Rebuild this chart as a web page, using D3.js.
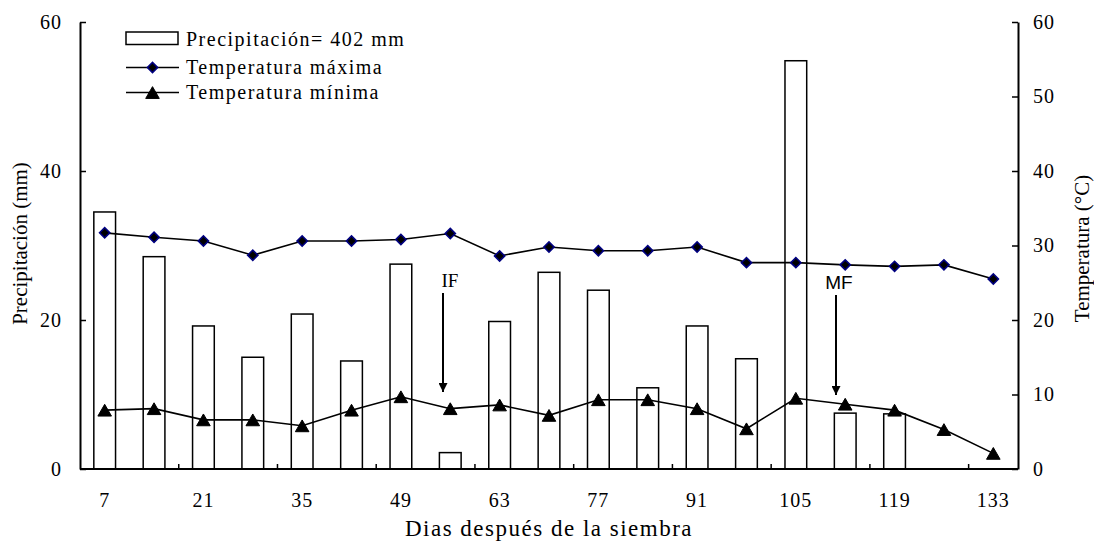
<!DOCTYPE html>
<html>
<head>
<meta charset="utf-8">
<script src="https://cdn.jsdelivr.net/npm/d3@7"></script>
<style>
    body { margin: 0; background: #fff; }
</style>
</head>
<body>
<script>
const days = [7, 14, 21, 28, 35, 42, 49, 56, 63, 70, 77, 84, 91, 98, 105, 112, 119, 126, 133];
const precip = [34.5, 28.5, 19.2, 15.0, 20.8, 14.5, 27.5, 2.2, 19.8, 26.4, 24.0, 10.9, 19.2, 14.8, 54.8, 7.5, 7.4, 0, 0];
const tMax = [31.7, 31.1, 30.6, 28.7, 30.6, 30.6, 30.8, 31.6, 28.6, 29.8, 29.3, 29.3, 29.8, 27.7, 27.7, 27.4, 27.2, 27.4, 25.5];
const tMin = [7.9, 8.1, 6.6, 6.6, 5.8, 7.9, 9.7, 8.1, 8.6, 7.2, 9.3, 9.3, 8.1, 5.4, 9.5, 8.7, 7.9, 5.3, 2.1];
const yTicksLeft = [0, 20, 40, 60];
const yTicksRight = [0, 10, 20, 30, 40, 50, 60];
const labelDays = [7, 21, 35, 49, 63, 77, 91, 105, 119, 133];

const SERIF = '"Liberation Serif", "Times New Roman", serif';
const SANS = '"Liberation Sans", Arial, sans-serif';

const width = 1094;
const height = 541;
const margin = { top: 22, right: 76, bottom: 72, left: 80 };

const svg = d3.select('body').append('svg')
    .attr('width', width)
    .attr('height', height);

const x = d3.scaleBand()
    .domain(days)
    .range([margin.left, width - margin.right])
    .padding(0);

const yL = d3.scaleLinear().domain([0, 60]).range([height - margin.bottom, margin.top]);
const yR = d3.scaleLinear().domain([0, 60]).range([height - margin.bottom, margin.top]);

const barW = x.bandwidth() * 0.44;
const cx = d => x(d) + x.bandwidth() / 2;

// bars
svg.append('g')
    .selectAll('rect')
    .data(days.map((d, i) => ({ d, v: precip[i] })).filter(o => o.v > 0))
    .join('rect')
    .attr('x', o => cx(o.d) - barW / 2)
    .attr('y', o => yL(o.v))
    .attr('width', barW)
    .attr('height', o => yL(0) - yL(o.v))
    .attr('fill', '#fff')
    .attr('stroke', '#000')
    .attr('stroke-width', 1.5);

// lines
const line = d3.line().x(o => cx(o.d)).y(o => yR(o.v));
const maxPts = days.map((d, i) => ({ d, v: tMax[i] }));
const minPts = days.map((d, i) => ({ d, v: tMin[i] }));

svg.append('path').datum(maxPts).attr('d', line)
    .attr('fill', 'none').attr('stroke', '#000').attr('stroke-width', 1.6);
svg.append('path').datum(minPts).attr('d', line)
    .attr('fill', 'none').attr('stroke', '#000').attr('stroke-width', 1.6);

const diamond = d3.symbol().type(d3.symbolSquare).size(52);
const triangle = d3.symbol().type(d3.symbolTriangle).size(80);

svg.append('g').selectAll('path').data(maxPts).join('path')
    .attr('transform', o => `translate(${cx(o.d)},${yR(o.v)}) rotate(45)`)
    .attr('d', diamond)
    .attr('fill', '#000').attr('stroke', '#000080').attr('stroke-width', 1.6);

svg.append('g').selectAll('path').data(minPts).join('path')
    .attr('transform', o => `translate(${cx(o.d)},${yR(o.v) + 2})`)
    .attr('d', triangle)
    .attr('fill', '#000').attr('stroke', '#000').attr('stroke-width', 1);

// axes
const gxb = svg.append('g')
    .attr('transform', `translate(0,${yL(0)})`);
gxb.append('line')
    .attr('x1', margin.left).attr('x2', width - margin.right)
    .attr('stroke', '#000').attr('stroke-width', 2);
gxb.selectAll('.tk')
    .data(days.filter((d, i) => i % 2 === 1))
    .join('line')
    .attr('x1', d => x(d) + x.bandwidth()).attr('x2', d => x(d) + x.bandwidth())
    .attr('y1', 0).attr('y2', -5)
    .attr('stroke', '#000').attr('stroke-width', 1.5);
gxb.selectAll('text')
    .data(labelDays)
    .join('text')
    .attr('x', d => cx(d))
    .attr('y', 38)
    .attr('text-anchor', 'middle')
    .attr('font-size', 20)
    .attr('letter-spacing', 1)
    .style('font-family', SERIF)
    .text(d => d);

const styleAxis = g => {
    g.select('.domain').attr('stroke-width', 2);
    g.selectAll('.tick line').attr('stroke-width', 1.5);
    g.selectAll('text').attr('font-size', 20).attr('letter-spacing', 1).style('font-family', SERIF);
};

svg.append('g')
    .attr('transform', `translate(${margin.left},0)`)
    .call(d3.axisLeft(yL).tickValues(yTicksLeft).tickSizeInner(-6).tickSizeOuter(0).tickPadding(18))
    .call(styleAxis);

svg.append('g')
    .attr('transform', `translate(${width - margin.right},0)`)
    .call(d3.axisRight(yR).tickValues(yTicksRight).tickSizeInner(-6).tickSizeOuter(0).tickPadding(15))
    .call(styleAxis);

// axis titles
svg.append('text')
    .attr('x', (margin.left + width - margin.right) / 2)
    .attr('y', 536)
    .attr('text-anchor', 'middle')
    .attr('font-size', 23)
    .attr('letter-spacing', 1.5)
    .style('font-family', SERIF)
    .text('Dias después de la siembra');

svg.append('text')
    .attr('transform', `translate(27,${(yL(0) + yL(60)) / 2 - 2}) rotate(-90)`)
    .attr('text-anchor', 'middle')
    .attr('font-size', 21)
    .style('font-family', SERIF)
    .text('Precipitación (mm)');

svg.append('text')
    .attr('transform', `translate(1089,${(yL(0) + yL(60)) / 2 + 3}) rotate(-90)`)
    .attr('text-anchor', 'middle')
    .attr('font-size', 21)
    .style('font-family', SERIF)
    .text('Temperatura (°C)');

// annotations
const ann = [
    { label: 'IF', x: 443, y1: 293, y2: 392, font: SERIF, dx: 7 },
    { label: 'MF', x: 836, y1: 295, y2: 395, font: SANS, dx: 3 }
];
svg.append('defs').append('marker')
    .attr('id', 'arrow')
    .attr('viewBox', '0 0 10 10')
    .attr('refX', 10).attr('refY', 5)
    .attr('markerWidth', 10).attr('markerHeight', 9)
    .attr('markerUnits', 'userSpaceOnUse')
    .attr('orient', 'auto')
    .append('path').attr('d', 'M0,0L10,5L0,10Z').attr('fill', '#000');
ann.forEach(a => {
    svg.append('line')
        .attr('x1', a.x).attr('x2', a.x)
        .attr('y1', a.y1).attr('y2', a.y2)
        .attr('stroke', '#000').attr('stroke-width', 2)
        .attr('marker-end', 'url(#arrow)');
    svg.append('text')
        .attr('x', a.x + a.dx).attr('y', a.y1 - 6)
        .attr('text-anchor', 'middle')
        .attr('font-size', 19)
        .style('font-family', a.font)
        .text(a.label);
});

// legend
const lg = svg.append('g');
lg.append('rect')
    .attr('x', 126).attr('y', 32).attr('width', 52).attr('height', 12.5)
    .attr('fill', '#fff').attr('stroke', '#000').attr('stroke-width', 1.5);
lg.append('line').attr('x1', 126).attr('x2', 179).attr('y1', 67.5).attr('y2', 67.5)
    .attr('stroke', '#000').attr('stroke-width', 1.6);
lg.append('path')
    .attr('transform', 'translate(152.5,67.5) rotate(45)')
    .attr('d', diamond)
    .attr('fill', '#000').attr('stroke', '#000080').attr('stroke-width', 1.6);
lg.append('line').attr('x1', 126).attr('x2', 179).attr('y1', 92.5).attr('y2', 92.5)
    .attr('stroke', '#000').attr('stroke-width', 1.6);
lg.append('path')
    .attr('transform', 'translate(152.5,94.5)')
    .attr('d', triangle)
    .attr('fill', '#000').attr('stroke', '#000').attr('stroke-width', 1);
const legendLabels = ['Precipitación= 402 mm', 'Temperatura máxima', 'Temperatura mínima'];
const legendBase = [45.5, 74, 99];
lg.selectAll('text.lab').data(legendLabels).join('text')
    .attr('class', 'lab')
    .attr('x', 186)
    .attr('y', (d, i) => legendBase[i])
    .attr('font-size', 20)
    .attr('letter-spacing', 1.5)
    .style('font-family', SERIF)
    .text(d => d);
</script>
</body>
</html>
